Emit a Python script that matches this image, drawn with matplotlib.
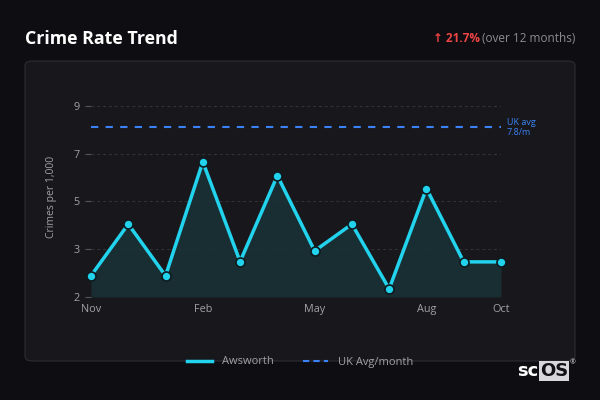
import matplotlib
matplotlib.use("Agg")
import matplotlib.pyplot as plt
from matplotlib.patches import FancyBboxPatch
from matplotlib.lines import Line2D

plt.rcParams['font.family'] = ['Open Sans', 'DejaVu Sans']

# data (in the chart's own y units)
months = ['Nov', 'Dec', 'Jan', 'Feb', 'Mar', 'Apr', 'May', 'Jun', 'Jul', 'Aug', 'Sep', 'Oct']
awsworth = [1.89, 4.05, 1.89, 6.66, 2.48, 6.08, 2.93, 4.05, 1.34, 5.54, 2.47, 2.47]
uk_avg = 8.1
y_ticks = [1, 3, 5, 7, 9]
y_tick_labels = ['2', '3', '5', '7', '9']
x_tick_labels = ['Nov', 'Feb', 'May', 'Aug', 'Oct']

BG = '#0e0e12'
CARD = '#18181c'
CYAN = '#22d3ee'
BLUE = '#3b82f6'
GRAY = '#9a9aa0'

fig = plt.figure(figsize=(6, 4), dpi=100)
fig.patch.set_facecolor(BG)

# card
card = FancyBboxPatch((25 / 600, 1 - 361 / 400), 550 / 600, 300 / 400,
                      boxstyle="round,pad=0,rounding_size=0.012",
                      transform=fig.transFigure, facecolor=CARD,
                      edgecolor='#2c2c32', linewidth=0.8, zorder=-5)
fig.patches.append(card)

fig.text(25 / 600, 1 - 44 / 400, 'Crime Rate Trend', color='white',
         fontsize=12.8, fontweight='bold', va='baseline')
fig.text(480 / 600, 1 - 41.5 / 400, '↑ 21.7%', color='#ef4444',
         fontsize=8.5, fontweight='bold', ha='right', va='baseline')
fig.text(482 / 600, 1 - 41.5 / 400, '(over 12 months)', color='#8a8a90',
         fontsize=8.5, ha='left', va='baseline')

ax = fig.add_axes([91 / 600, 1 - 297 / 400, 410 / 600, 200.7 / 400])
ax.set_facecolor('none')
x = list(range(len(months)))

ax.fill_between(x, awsworth, 1, color='#1a3238', alpha=0.85, linewidth=0)
ax.plot(x, awsworth, color=CYAN, linewidth=2.5, marker='o', markersize=6.5,
        markerfacecolor=CYAN, markeredgecolor='#0e1a1e', markeredgewidth=1.2,
        zorder=3, clip_on=False)
ax.axhline(uk_avg, color=BLUE, linewidth=1.5, linestyle=(0, (3.5, 3.5)), zorder=2)
ax.text(len(months) - 1 + 0.15, uk_avg, 'UK avg\n7.8/m', color=BLUE,
        fontsize=6.5, va='center', ha='left', linespacing=1.1)

ax.set_xlim(0, len(months) - 1)
ax.set_ylim(1, 9.4)
ax.set_yticks(y_ticks)
ax.set_yticklabels(y_tick_labels)
ax.set_xticks([months.index(m) for m in x_tick_labels])
ax.set_xticklabels(x_tick_labels)
ax.tick_params(axis='y', colors='#55555c', labelsize=7.8, length=4, width=0.8, pad=4)
ax.tick_params(axis='x', colors=GRAY, labelsize=7.8, length=0, pad=5)
for t in ax.get_yticklabels() + ax.get_xticklabels():
    t.set_color('#a0a0a6')
for s in ax.spines.values():
    s.set_visible(False)
for yv in y_ticks[1:]:
    ax.axhline(yv, color='#33333a', linewidth=0.7, linestyle=(0, (3, 3)), zorder=0)
ax.set_ylabel('Crimes per 1,000', color='#a0a0a6', fontsize=7.5, labelpad=12)

handles = [Line2D([], [], color=CYAN, linewidth=2.5),
           Line2D([], [], color=BLUE, linewidth=1.5, linestyle=(0, (3, 2)))]
fig.legend(handles, ['Awsworth', 'UK Avg/month'], loc='center',
           bbox_to_anchor=(0.5, 1 - 362 / 400), ncol=2, frameon=False,
           fontsize=8, labelcolor='#a0a0a6', handlelength=2.3,
           columnspacing=2.6, handletextpad=0.9)

# logo
fig.text(517 / 600, 1 - 376 / 400, 'sc', color='white', fontsize=13,
         fontweight='bold', va='baseline', family='DejaVu Sans')
fig.text(540 / 600, 1 - 376 / 400, 'OS', color='#111114', fontsize=13,
         fontweight='bold', va='baseline', family='DejaVu Sans',
         bbox=dict(facecolor='#d8d8dc', edgecolor='none', pad=0.5))
fig.text(570 / 600, 1 - 364 / 400, '®', color='#d8d8dc', fontsize=5)

fig.savefig('out.png', dpi=100, facecolor=BG)
